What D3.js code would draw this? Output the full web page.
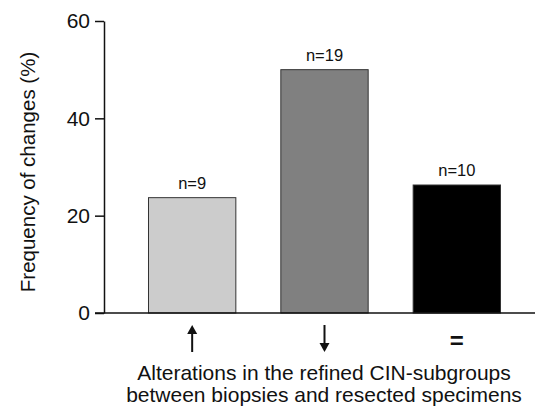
<!DOCTYPE html>
<html>
<head>
<meta charset="utf-8">
<script src="https://cdn.jsdelivr.net/npm/d3@7"></script>
<style>
  body { margin: 0; background: #fff; }
  svg text { font-family: "Liberation Sans", Arial, sans-serif; fill: #111; }
</style>
</head>
<body>
<div id="chart-container"></div>
<script>
// Chart data
const categories = ["up", "down", "same"];
const values = [23.7, 50, 26.3];
const counts = ["n=9", "n=19", "n=10"];
const barColors = ["#cccccc", "#808080", "#000000"];
const yTicks = [0, 20, 40, 60];

const width = 536, height = 420;
const margin = { left: 104, right: 1, top: 21, bottom: 107 };

const svg = d3.select("#chart-container")
  .append("svg")
  .attr("width", width)
  .attr("height", height);

const xScale = d3.scaleBand()
  .domain(categories)
  .range([126, 523])
  .paddingInner(0.34)
  .paddingOuter(0.17);

const yScale = d3.scaleLinear()
  .domain([0, 60])
  .range([height - margin.bottom, margin.top]);

// Bars
svg.selectAll("rect.bar")
  .data(values)
  .enter()
  .append("rect")
  .attr("class", "bar")
  .attr("x", (d, i) => xScale(categories[i]))
  .attr("y", d => yScale(d))
  .attr("width", xScale.bandwidth())
  .attr("height", d => yScale(0) - yScale(d))
  .attr("fill", (d, i) => barColors[i])
  .attr("stroke", "#333")
  .attr("stroke-width", 1);

// n labels
svg.selectAll("text.count")
  .data(values)
  .enter()
  .append("text")
  .attr("class", "count")
  .attr("x", (d, i) => xScale(categories[i]) + xScale.bandwidth() / 2)
  .attr("y", d => yScale(d) - 9)
  .attr("text-anchor", "middle")
  .attr("font-size", "16.5px")
  .text((d, i) => counts[i]);

// Y axis
const yAxis = svg.append("g")
  .attr("transform", `translate(${margin.left},0)`)
  .call(d3.axisLeft(yScale).tickValues(yTicks).tickSize(9).tickPadding(5).tickSizeOuter(0));
yAxis.select(".domain").attr("stroke", "#111").attr("stroke-width", 1.5);
yAxis.selectAll(".tick line").attr("stroke", "#111").attr("stroke-width", 1.5);
yAxis.selectAll(".tick text")
  .attr("font-size", "21px")
  .attr("font-family", "Liberation Sans, Arial, sans-serif")
  .attr("fill", "#111");

// X axis line (extends from the 0 tick to the right edge)
svg.append("line")
  .attr("x1", margin.left - 9)
  .attr("x2", width - margin.right)
  .attr("y1", yScale(0))
  .attr("y2", yScale(0))
  .attr("stroke", "#111")
  .attr("stroke-width", 1.5);

// Category markers below the axis: up arrow, down arrow, equals sign
const markY0 = yScale(0) + 12, markY1 = yScale(0) + 39;
const arrowCats = [{ cat: "up", dir: -1 }, { cat: "down", dir: 1 }];
arrowCats.forEach(a => {
  const cx = xScale(a.cat) + xScale.bandwidth() / 2;
  const tip = a.dir < 0 ? markY0 : markY1;
  const tail = a.dir < 0 ? markY1 : markY0;
  svg.append("line")
    .attr("x1", cx).attr("x2", cx)
    .attr("y1", tail).attr("y2", tip - a.dir * 6)
    .attr("stroke", "#111")
    .attr("stroke-width", 2);
  svg.append("path")
    .attr("d", `M${cx},${tip} L${cx - 5},${tip - a.dir * 9} L${cx + 5},${tip - a.dir * 9} Z`)
    .attr("fill", "#111");
});

svg.append("text")
  .attr("x", xScale("same") + xScale.bandwidth() / 2)
  .attr("y", yScale(0) + 36)
  .attr("text-anchor", "middle")
  .attr("font-size", "24px")
  .attr("font-weight", "bold")
  .text("=");

// Axis titles
svg.append("text")
  .attr("transform", "rotate(-90)")
  .attr("x", -172)
  .attr("y", 35)
  .attr("text-anchor", "middle")
  .attr("font-size", "20.5px")
  .text("Frequency of changes (%)");

svg.append("text")
  .attr("x", 324)
  .attr("y", 380)
  .attr("text-anchor", "middle")
  .attr("font-size", "21px")
  .text("Alterations in the refined CIN-subgroups");

svg.append("text")
  .attr("x", 324)
  .attr("y", 402)
  .attr("text-anchor", "middle")
  .attr("font-size", "21px")
  .text("between biopsies and resected specimens");
</script>
</body>
</html>
